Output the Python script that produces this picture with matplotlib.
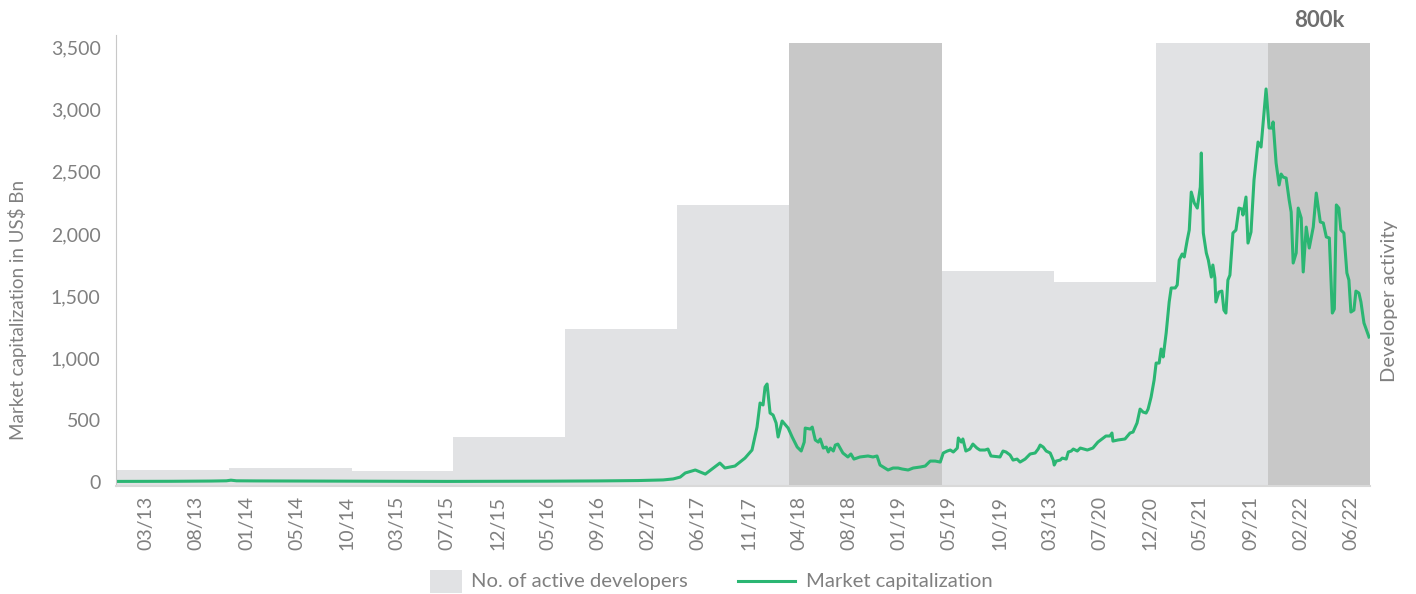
import matplotlib
matplotlib.use("Agg")
import matplotlib.pyplot as plt
from matplotlib.lines import Line2D
from matplotlib.patches import Rectangle

# x axis labels (one per period index 0..24, as printed in the source chart)
tick_labels = ["03/13", "08/13", "01/14", "05/14", "10/14", "03/15", "07/15", "12/15",
               "05/16", "09/16", "02/17", "06/17", "11/17", "04/18", "08/18", "01/19",
               "05/19", "10/19", "03/13", "07/20", "12/20", "05/21", "09/21", "02/22", "06/22"]

# developer activity blocks: edges in period index, values in thousands
dev_edges = [-0.6, 1.65, 4.1, 6.12, 8.35, 10.58, 12.81, 15.86, 18.09, 20.12, 22.35, 24.38]
dev_values = [29, 32, 27, 88, 284, 507, 800, 388, 368, 800, 800]
dev_dark = [False, False, False, False, False, False, True, False, False, False, True]

# market capitalization (US$ Bn) against period index
mcap_t = [-0.60, 0.5, 1.3, 1.6, 1.69, 1.8, 2.2, 3.0, 4.0, 5.0, 6.0, 7.0, 8.0, 9.0, 9.8,
          10.3, 10.5, 10.64, 10.74, 10.94, 11.14, 11.43, 11.53, 11.73, 11.93, 12.07, 12.17,
          12.23, 12.29, 12.33, 12.37, 12.43, 12.49, 12.55, 12.59, 12.67, 12.79, 12.87, 12.97,
          13.05, 13.11, 13.13, 13.23, 13.27, 13.33, 13.39, 13.43, 13.49, 13.55, 13.59, 13.63,
          13.69, 13.73, 13.78, 13.88, 13.98, 14.04, 14.10, 14.22, 14.38, 14.48, 14.56, 14.62,
          14.78, 14.88, 14.98, 15.06, 15.18, 15.28, 15.42, 15.52, 15.62, 15.72, 15.82, 15.88,
          15.96, 16.02, 16.08, 16.16, 16.18, 16.24, 16.27, 16.33, 16.41, 16.47, 16.55, 16.61,
          16.71, 16.77, 16.83, 17.01, 17.07, 17.13, 17.21, 17.27, 17.35, 17.41, 17.51, 17.61,
          17.71, 17.77, 17.81, 17.87, 17.93, 18.01, 18.07, 18.09, 18.13, 18.21, 18.25, 18.33,
          18.37, 18.43, 18.47, 18.55, 18.61, 18.75, 18.86, 18.96, 19.04, 19.12, 19.20, 19.24,
          19.26, 19.36, 19.50, 19.60, 19.66, 19.74, 19.80, 19.86, 19.92, 19.96, 20.02, 20.08,
          20.12, 20.18, 20.22, 20.26, 20.32, 20.38, 20.42, 20.50, 20.54, 20.58, 20.64, 20.68,
          20.74, 20.78, 20.82, 20.88, 20.94, 21.00, 21.02, 21.06, 21.12, 21.16, 21.22, 21.25,
          21.29, 21.31, 21.37, 21.43, 21.47, 21.51, 21.55, 21.59, 21.65, 21.71, 21.77, 21.83,
          21.85, 21.91, 21.95, 22.01, 22.07, 22.15, 22.21, 22.31, 22.37, 22.43, 22.45, 22.51,
          22.57, 22.61, 22.65, 22.71, 22.77, 22.81, 22.85, 22.91, 22.95, 23.01, 23.05, 23.11,
          23.17, 23.25, 23.31, 23.39, 23.45, 23.51, 23.57, 23.63, 23.67, 23.71, 23.76, 23.80,
          23.86, 23.92, 23.96, 24.00, 24.06, 24.10, 24.16, 24.20, 24.26, 24.36]
mcap_bn = [5, 6, 8, 10, 15, 10, 9, 8, 6, 5, 5, 6, 7, 9, 12,
           17, 25, 40, 73, 97, 64, 153, 113, 129, 193, 258, 443,
           637, 621, 766, 790, 556, 540, 476, 363, 492, 435, 363, 282,
           250, 322, 435, 427, 443, 339, 322, 347, 274, 282, 242, 274,
           250, 298, 306, 234, 202, 226, 185, 202, 210, 202, 210, 137,
           97, 113, 113, 105, 97, 113, 121, 129, 169, 169, 161, 234,
           250, 258, 242, 274, 355, 322, 347, 250, 266, 306, 274, 258,
           258, 266, 210, 202, 250, 242, 218, 177, 185, 161, 185, 226,
           234, 266, 298, 282, 250, 234, 177, 137, 169, 177, 193, 185,
           242, 250, 266, 250, 274, 258, 274, 322, 347, 371, 371, 395,
           330, 339, 347, 395, 403, 476, 588, 564, 556, 588, 685, 822,
           959, 959, 1072, 1008, 1201, 1451, 1564, 1564, 1588, 1789, 1838, 1814,
           1951, 2031, 2337, 2249, 2208, 2378, 2652, 2007, 1846, 1789, 1652, 1749,
           1644, 1451, 1531, 1539, 1386, 1362, 1628, 1668, 2007, 2031, 2208, 2200,
           2152, 2297, 1926, 2015, 2434, 2740, 2700, 3168, 2853, 2853, 2902, 2571,
           2394, 2482, 2458, 2450, 2273, 2176, 1765, 1846, 2208, 2128, 1693, 2055,
           1886, 2055, 2329, 2096, 2088, 1975, 1967, 1362, 1394, 2233, 2208, 2031,
           2007, 1685, 1628, 1370, 1386, 1539, 1523, 1451, 1282, 1169]

grey_txt = "#808080"
green = "#2bb673"
light_bar = "#e1e2e4"
dark_bar = "#c8c8c8"

plt.rcParams["font.family"] = ["Lato", "DejaVu Sans"]

W, H = 1416, 594
fig = plt.figure(figsize=(W / 100, H / 100), dpi=100)
ax = fig.add_axes([0.0819, 0.1818, 0.8856, 0.7593])
ax2 = ax.twinx()

# developer activity as stepped blocks on the secondary axis
for i in range(len(dev_values)):
    left = dev_edges[i]
    width = dev_edges[i + 1] - dev_edges[i]
    col = dark_bar if dev_dark[i] else light_bar
    ax2.bar(left, dev_values[i], width=width, align="edge", color=col, linewidth=0)

ax2.set_ylim(0, 814)
ax2.set_yticks([])
for s in ax2.spines.values():
    s.set_visible(False)
ax2.annotate("800k", xy=((dev_edges[-2] + dev_edges[-1]) / 2, dev_values[-1]),
             xytext=(0, 16), textcoords="offset points", ha="center", va="center",
             fontsize=16, fontweight="bold", color="#6e6e6e")

# market cap line on top
ax.set_zorder(ax2.get_zorder() + 1)
ax.patch.set_visible(False)
ax.plot(mcap_t, mcap_bn, color=green, linewidth=2.2, solid_joinstyle="round")

ax.set_xlim(-0.6, 24.38)
ax.set_ylim(-32, 3603)
ax.set_yticks(range(0, 3501, 500))
ax.set_yticklabels(["{:,}".format(v) for v in range(0, 3501, 500)])
ax.set_xticks(range(len(tick_labels)))
ax.set_xticklabels(tick_labels, rotation=90)
ax.tick_params(axis="y", length=0, pad=11, labelsize=14, labelcolor=grey_txt)
ax.tick_params(axis="x", length=0, pad=7, labelsize=14, labelcolor=grey_txt)
ax.spines["top"].set_visible(False)
ax.spines["right"].set_visible(False)
ax.spines["left"].set_color("#c8c8c8")
ax.spines["bottom"].set_color("#d9d9d9")
ax.spines["bottom"].set_linewidth(1.5)

fig.text(18 / W, 1 - 310 / H, "Market capitalization in US$ Bn", rotation=90,
         ha="center", va="center", fontsize=13.5, color=grey_txt)
fig.text(1390 / W, 1 - 301 / H, "Developer activity", rotation=90,
         ha="center", va="center", fontsize=14.5, color=grey_txt)

# legend drawn by hand so the square and the line keep their own widths
fig.add_artist(Rectangle((430 / W, 1 - 593 / H), 32 / W, 23 / H,
                         transform=fig.transFigure, color=light_bar, linewidth=0))
fig.text(471 / W, 1 - 581 / H, "No. of active developers", ha="left", va="center",
         fontsize=14.6, color=grey_txt)
fig.add_artist(Line2D([738 / W, 795 / W], [1 - 581 / H, 1 - 581 / H],
                      transform=fig.transFigure, color=green, linewidth=2.2))
fig.text(806 / W, 1 - 581 / H, "Market capitalization", ha="left", va="center",
         fontsize=14.6, color=grey_txt)

fig.savefig("out.png", dpi=100)
